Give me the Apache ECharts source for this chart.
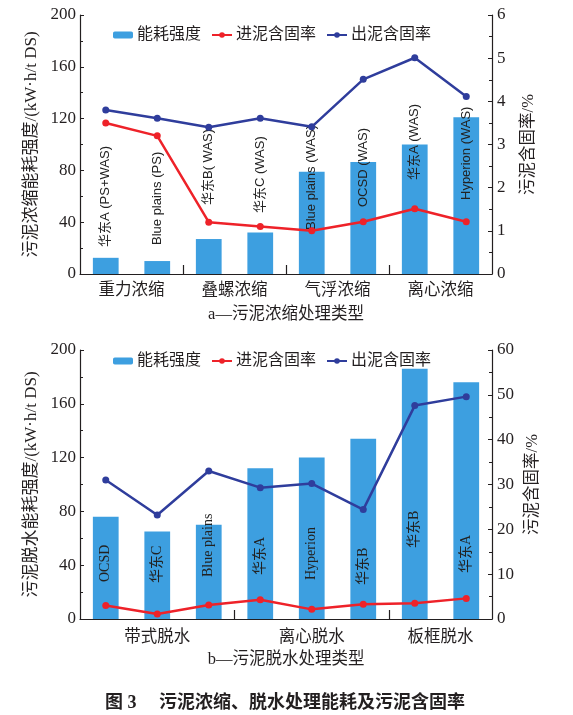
<!DOCTYPE html>
<html>
<head>
<meta charset="utf-8">
<script src="https://cdn.jsdelivr.net/npm/echarts@6/dist/echarts.min.js"></script>
<style>
html,body{margin:0;padding:0;background:#fff;}
#c{width:573px;height:715px;}
</style>
</head>
<body>
<div id="c"></div>
<script>
// ---------- data ----------
const seriesNames = ['能耗强度', '进泥含固率', '出泥含固率'];

const catsA = ['华东A (PS+WAS)', 'Blue plains (PS)', '华东B( WAS)', '华东C (WAS)', 'Blue plains (WAS)', 'OCSD (WAS)', '华东A (WAS)', 'Hyperion (WAS)'];
const energyA = [12.5, 10, 27, 32, 79, 86.5, 100, 121];
const inA = [3.5, 3.2, 1.2, 1.1, 1.0, 1.21, 1.51, 1.21];
const outA = [3.8, 3.61, 3.4, 3.61, 3.41, 4.51, 5.01, 4.11];
const groupsA = ['重力浓缩', '叠螺浓缩', '气浮浓缩', '离心浓缩'];
const groupSizesA = [2, 2, 2, 2];

const catsB = ['OCSD', '华东C', 'Blue plains', '华东A', 'Hyperion', '华东B', '华东B', '华东A'];
const energyB = [76, 65, 70, 112, 120, 134, 186, 176];
const inB = [3.0, 1.1, 3.1, 4.3, 2.15, 3.3, 3.5, 4.6];
const outB = [31, 23.2, 33, 29.3, 30.2, 24.4, 47.6, 49.6];
const groupsB = ['带式脱水', '离心脱水', '板框脱水'];
const groupSizesB = [3, 3, 2];

const leftTicksA = [0, 40, 80, 120, 160, 200];
const rightTicksA = [0, 1, 2, 3, 4, 5, 6];
const leftTicksB = [0, 40, 80, 120, 160, 200];
const rightTicksB = [0, 10, 20, 30, 40, 50, 60];

// ---------- styles ----------
const BAR = '#3d9fe0', RED = '#ee2229', BLUE = '#2f3d9c', INK = '#231f20';
const SERIF = "'Liberation Serif','Noto Sans CJK SC'";
const SANS = "'Liberation Sans','Noto Sans CJK SC'";
const labelLiftA = [27, 29, 69, 61, 44, 67, 94, 74];
const labelLiftB = [37, 36, 42, 44, 39, 34, 71, 46];

function groupInfo(sizes) {
  const bounds = [], centers = [];
  let acc = 0;
  sizes.forEach((s, i) => {
    centers.push(acc + s / 2);
    acc += s;
    if (i < sizes.length - 1) bounds.push(acc);
  });
  return { bounds, centers, total: acc };
}

function build(idx, cfg) {
  const g = groupInfo(cfg.sizes);
  const xAxes = [
    {
      type: 'category', gridIndex: idx, data: cfg.cats.map((c, i) => String(i)),
      axisLine: { show: true, lineStyle: { color: INK, width: 1.2 } },
      axisTick: { show: false }, axisLabel: { show: false }, splitLine: { show: false }
    },
    {
      type: 'value', gridIndex: idx, position: 'bottom', min: 0, max: g.total,
      axisLine: { show: false }, splitLine: { show: false },
      axisTick: { show: true, inside: true, length: 9, customValues: g.bounds, lineStyle: { color: INK, width: 1.2 } },
      axisLabel: {
        show: true, customValues: g.centers, margin: cfg.xMargin,
        fontFamily: SERIF, fontSize: 16.5, color: INK,
        formatter: v => { const k = g.centers.findIndex(c => Math.abs(c - v) < 1e-6); return k >= 0 ? cfg.groups[k] : ''; }
      },
      name: cfg.xName, nameLocation: 'middle', nameGap: cfg.xNameGap,
      nameTextStyle: { fontFamily: SERIF, fontSize: 16.5, color: INK }
    }
  ];
  const yAxes = [
    {
      type: 'value', gridIndex: idx, position: 'left', min: cfg.lTicks[0], max: cfg.lTicks[cfg.lTicks.length - 1],
      interval: cfg.lTicks[1] - cfg.lTicks[0],
      axisLine: { show: true, lineStyle: { color: INK, width: 1.2 } },
      axisTick: { show: true, inside: true, length: 4, lineStyle: { color: INK } },
      minorTick: { show: true, splitNumber: 2, length: 3, lineStyle: { color: INK } },
      axisLabel: { fontFamily: SERIF, fontSize: 17, color: INK, margin: 4 },
      splitLine: { show: false },
      name: cfg.lName, nameLocation: 'middle', nameRotate: 90, nameGap: 34,
      nameTextStyle: { fontFamily: SERIF, fontSize: 17, color: INK }
    },
    {
      type: 'value', gridIndex: idx, position: 'right', min: cfg.rTicks[0], max: cfg.rTicks[cfg.rTicks.length - 1],
      interval: cfg.rTicks[1] - cfg.rTicks[0],
      axisLine: { show: true, lineStyle: { color: INK, width: 1.2 } },
      axisTick: { show: true, inside: true, length: 4, lineStyle: { color: INK } },
      minorTick: { show: true, splitNumber: 2, length: 3, lineStyle: { color: INK } },
      axisLabel: { fontFamily: SERIF, fontSize: 17, color: INK, margin: 5 },
      splitLine: { show: false },
      name: '污泥含固率/%', nameLocation: 'middle', nameRotate: 90, nameGap: 28,
      nameTextStyle: { fontFamily: SERIF, fontSize: 16.5, color: INK }
    }
  ];
  const xi = idx * 2, yi = idx * 2;
  const series = [
    {
      name: seriesNames[0], type: 'bar', xAxisIndex: xi, yAxisIndex: yi, barWidth: '50%',
      itemStyle: { color: BAR },
      data: cfg.energy.map((v, i) => ({
        value: v,
        label: {
          show: true, position: 'insideBottom', distance: cfg.lift[i], rotate: 90,
          align: 'left', verticalAlign: 'middle',
          fontFamily: cfg.labelFont, fontSize: cfg.labelSize, color: '#222',
          formatter: () => cfg.cats[i]
        }
      })),
      z: 2
    },
    {
      name: seriesNames[1], type: 'line', xAxisIndex: xi, yAxisIndex: yi + 1, data: cfg.inS,
      symbol: 'circle', symbolSize: 7, itemStyle: { color: RED }, lineStyle: { color: RED, width: 2.5 }, z: 3
    },
    {
      name: seriesNames[2], type: 'line', xAxisIndex: xi, yAxisIndex: yi + 1, data: cfg.outS,
      symbol: 'circle', symbolSize: 7, itemStyle: { color: BLUE }, lineStyle: { color: BLUE, width: 2.5 }, z: 3
    }
  ];
  return { xAxes, yAxes, series };
}

const A = build(0, {
  cats: catsA, energy: energyA, inS: inA, outS: outA, groups: groupsA, sizes: groupSizesA,
  lTicks: leftTicksA, rTicks: rightTicksA, lName: '污泥浓缩能耗强度/(kW·h/t DS)',
  xName: 'a—污泥浓缩处理类型', xMargin: 8, xNameGap: 32, lift: labelLiftA,
  labelFont: SANS, labelSize: 13
});
const B = build(1, {
  cats: catsB, energy: energyB, inS: inB, outS: outB, groups: groupsB, sizes: groupSizesB,
  lTicks: leftTicksB, rTicks: rightTicksB, lName: '污泥脱水能耗强度/(kW·h/t DS)',
  xName: 'b—污泥脱水处理类型', xMargin: 10, xNameGap: 32, lift: labelLiftB,
  labelFont: SERIF, labelSize: 14
});

const legendCommon = {
  data: seriesNames, left: 108, itemWidth: 20, itemHeight: 7, itemGap: 10,
  textStyle: { fontFamily: SANS, fontSize: 16, color: INK, padding: [0, 0, 0, -1] },
  selectedMode: false
};

const option = {
  animation: false,
  backgroundColor: '#fff',
  title: {
    text: '图 3\u3000 污泥浓缩、脱水处理能耗及污泥含固率',
    left: 100, top: 689,
    textStyle: { fontFamily: SERIF, fontSize: 18, fontWeight: 'bold', color: INK }
  },
  legend: [
    Object.assign({}, legendCommon, { top: 22 }),
    Object.assign({}, legendCommon, { top: 348 })
  ],
  grid: [
    { left: 80, right: 81, top: 15, height: 259 },
    { left: 80, right: 81, top: 350, height: 269 }
  ],
  xAxis: A.xAxes.concat(B.xAxes),
  yAxis: A.yAxes.concat(B.yAxes),
  series: A.series.concat(B.series)
};

const chart = echarts.init(document.getElementById('c'), null, { renderer: 'canvas' });
chart.setOption(option);
</script>
</body>
</html>
